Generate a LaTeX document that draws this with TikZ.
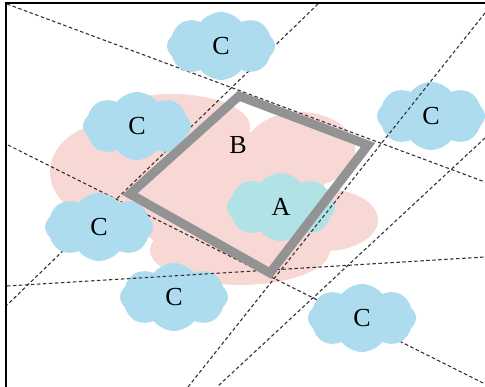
\documentclass[tikz,border=0pt]{standalone}
\usepackage{fontspec}
\setmainfont{Liberation Serif}
\usetikzlibrary{shapes.symbols}
\definecolor{skyblue}{RGB}{174,220,239}
\definecolor{aquablue}{RGB}{176,226,230}
\definecolor{blush}{RGB}{248,216,212}
\definecolor{edgegray}{RGB}{147,147,147}
\tikzset{
  puff/.style={cloud, cloud puffs=8, cloud puff arc=105, cloud ignores aspect,
    minimum width=108pt, minimum height=68pt, inner sep=0pt, fill=skyblue,
    font=\fontsize{26}{30}\selectfont},
  guide/.style={draw=black!80, line width=1.1pt, dash pattern=on 3.5pt off 2.5pt},
  label/.style={font=\fontsize{26}{30}\selectfont},
}

\begin{document}
\begin{tikzpicture}[x=1pt, y=-1pt]
			%%%%% START %%%%%
			\useasboundingbox (0,0) rectangle (485,387);
			
			\coordinate (qTop) at (239, 96);
			\coordinate (qRight) at (368, 145);
			\coordinate (qBot) at (270, 273);
			\coordinate (qLeft) at (130, 194);
			
			% pink blob
			\fill[blush] (115, 172) ellipse [x radius=65, y radius=50];
			\fill[blush] (172, 127) ellipse [x radius=78, y radius=33];
			\fill[blush] (300, 150) ellipse [x radius=55, y radius=38];
			\fill[blush] (325, 220) ellipse [x radius=53, y radius=31];
			\fill[blush] (240, 250) ellipse [x radius=90, y radius=35];
			\fill[blush] (225, 195) ellipse [x radius=100, y radius=65];
			
			\coordinate (l1a) at (7, 4);
			\coordinate (l1b) at (485, 182);
			\coordinate (l2a) at (318, 4);
			\coordinate (l2b) at (7, 305);
			\coordinate (l3a) at (8, 145);
			\coordinate (l3b) at (485, 384);
			\coordinate (l4a) at (485, 13);
			\coordinate (l4b) at (188, 387);
			\coordinate (l5a) at (485, 138);
			\coordinate (l5b) at (217, 387);
			\coordinate (l6a) at (7, 286);
			\coordinate (l6b) at (485, 257);
			
			\draw[guide] (l1a) -- (l1b);
			\draw[guide] (l2a) -- (l2b);
			\draw[guide] (l3a) -- (l3b);
			\draw[guide] (l5a) -- (l5b);
			
			\node[puff] (c1) at (221, 46) {C};
			\node[puff] (c2) at (137, 126) {C};
			\node[puff] (c3) at (431, 116) {C};
			\node[puff] (c4) at (99, 227) {C};
			\node[puff] (c5) at (174, 297) {C};
			\node[puff] (c6) at (362, 318) {C};
			\node[puff, fill=aquablue] (a) at (281, 207) {A};
			
			\draw[guide] (l4a) -- (l4b);
			\draw[guide] (l6a) -- (l6b);
			
			\draw[edgegray, line width=9pt, miter limit=4] (qTop) -- (qRight) -- (qBot) -- (qLeft) -- cycle;
			\node[label] (b) at (238, 145) {B};
			
			\draw[line width=2pt] (6, 387) -- (6, 3) -- (485, 3);
			%%%%% END %%%%%
		\end{tikzpicture}
\end{document}
